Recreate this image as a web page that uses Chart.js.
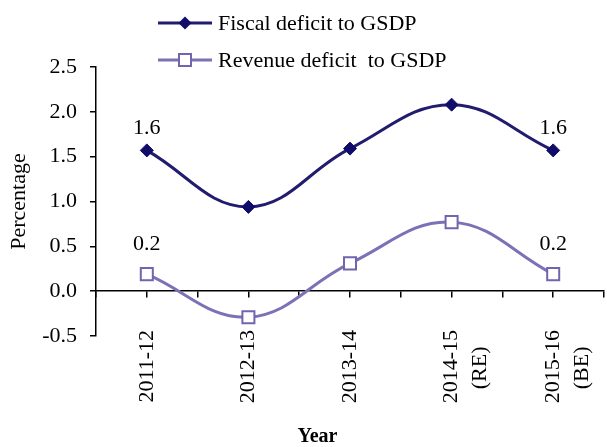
<!DOCTYPE html>
<html>
<head>
<meta charset="utf-8">
<script src="https://cdn.jsdelivr.net/npm/chart.js@4.4.1/dist/chart.umd.min.js"></script>
<style>
  html, body { margin: 0; padding: 0; background: #ffffff; }
  #wrap { position: relative; width: 607px; height: 447px; }
  #legend { position: absolute; left: 0; top: 0; width: 607px; height: 80px; pointer-events: none; }
  .lg-row { position: absolute; left: 158px; height: 26px; display: flex; align-items: center; }
  .lg-row span { margin-left: 6px; font-family: 'Liberation Serif', 'Times New Roman', serif; font-size: 22px; line-height: 26px; color: #000; white-space: pre; }
</style>
</head>
<body>
<div id="wrap">
  <canvas id="c" width="607" height="447"></canvas>
  <div id="legend"></div>
</div>
<script>
// ---- data ----
const categories = ['2011-12', '2012-13', '2013-14', ['2014-15', '(RE)'], ['2015-16', '(BE)']];
const seriesNames = ['Fiscal deficit to GSDP', 'Revenue deficit  to GSDP'];
const fiscalDeficit = [1.57, 0.94, 1.59, 2.08, 1.57];
const revenueDeficit = [0.19, -0.29, 0.31, 0.77, 0.19];
const fiscalLabels = ['1.6', '', '', '', '1.6'];
const revenueLabels = ['0.2', '', '', '', '0.2'];
const yTicks = [-0.5, 0, 0.5, 1.0, 1.5, 2.0, 2.5];
const axisTitleY = 'Percentage';
const axisTitleX = 'Year';

const SERIF = "'Liberation Serif', 'Times New Roman', serif";
const fiscalColor = '#221c6e';
const fiscalMarker = '#100c6a';
const revenueColor = '#7b72b6';

const toPts = arr => arr.map((v, i) => ({ x: i, y: v }));

const pointLabelPlugin = {
  id: 'pointLabels',
  afterDatasetsDraw(chart) {
    const ctx = chart.ctx;
    ctx.save();
    ctx.font = '22px ' + SERIF;
    ctx.fillStyle = '#000';
    ctx.textAlign = 'center';
    ctx.textBaseline = 'alphabetic';
    chart.data.datasets.forEach((ds, di) => {
      const meta = chart.getDatasetMeta(di);
      (ds.pointLabels || []).forEach((t, i) => {
        if (!t) return;
        const el = meta.data[i];
        ctx.fillText(t, el.x, el.y - ds.labelOffset);
      });
    });
    ctx.restore();
  }
};

const chart = new Chart(document.getElementById('c'), {
  type: 'line',
  data: {
    datasets: [
      {
        label: seriesNames[0],
        data: toPts(fiscalDeficit),
        pointLabels: fiscalLabels,
        labelOffset: 16,
        borderColor: fiscalColor,
        borderWidth: 3,
        tension: 0.4,
        pointStyle: 'rectRot',
        pointRadius: 6.5,
        pointHoverRadius: 6.5,
        pointBackgroundColor: fiscalMarker,
        pointBorderColor: fiscalMarker,
        pointBorderWidth: 1,
        clip: false,
        xAxisID: 'x',
        yAxisID: 'y'
      },
      {
        label: seriesNames[1],
        data: toPts(revenueDeficit),
        pointLabels: revenueLabels,
        labelOffset: 24,
        borderColor: revenueColor,
        borderWidth: 3,
        tension: 0.4,
        pointStyle: 'rect',
        pointRadius: 8.5,
        pointHoverRadius: 8.5,
        pointBackgroundColor: '#ffffff',
        pointBorderColor: '#6f66ae',
        pointBorderWidth: 2,
        clip: false,
        xAxisID: 'x',
        yAxisID: 'y'
      }
    ]
  },
  options: {
    responsive: false,
    animation: false,
    events: [],
    layout: { autoPadding: false, padding: { top: 67, right: 3, bottom: 0, left: 0 } },
    plugins: { legend: { display: false }, tooltip: { enabled: false } },
    scales: {
      x: {
        type: 'linear',
        position: 'bottom',
        min: -0.5,
        max: 4.5,
        afterBuildTicks: s => { s.ticks = categories.map((c, i) => ({ value: i })); },
        afterFit: s => {
          s.height = 111;
          s.paddingLeft = 0;
          s.paddingRight = 0;
          s._computeLabelArea = () => undefined;
        },
        grid: { display: false, drawTicks: false },
        border: { display: false },
        ticks: {
          minRotation: 90,
          maxRotation: 90,
          padding: -6,
          autoSkip: false,
          color: '#000',
          font: { family: SERIF, size: 22, lineHeight: 1.3 },
          callback: v => {
            const c = categories[v];
            if (Array.isArray(c)) return [c[0], c[1] + '   '];
            return c;
          }
        },
        title: {
          display: true,
          text: axisTitleX + '             ',
          color: '#000',
          font: { family: SERIF, size: 20, weight: 'bold', lineHeight: 1.0 },
          padding: { top: 0, bottom: 0 }
        }
      },
      x2: {
        type: 'linear',
        position: { y: 0 },
        min: -0.5,
        max: 4.5,
        afterBuildTicks: s => {
          const t = [];
          for (let v = -0.5; v <= 4.5001; v += 0.5) t.push({ value: v });
          s.ticks = t;
        },
        afterFit: s => { s.paddingLeft = 0; s.paddingRight = 0; },
        grid: { drawOnChartArea: false, drawTicks: true, tickLength: 6, color: '#000', lineWidth: 1.5 },
        border: { display: true, color: '#000', width: 1.5 },
        ticks: { display: false }
      },
      y: {
        type: 'linear',
        position: 'left',
        min: -0.5,
        max: 2.5,
        afterBuildTicks: s => { s.ticks = yTicks.map(v => ({ value: v })); },
        afterFit: s => { s.width = 96; },
        grid: { drawOnChartArea: false, drawTicks: true, tickLength: 6, color: '#000', lineWidth: 1.5 },
        border: { display: true, color: '#000', width: 1.5 },
        ticks: {
          padding: 13,
          color: '#000',
          font: { family: SERIF, size: 22 },
          callback: v => v.toFixed(1)
        },
        title: {
          display: true,
          text: axisTitleY,
          color: '#000',
          font: { family: SERIF, size: 22 },
          padding: { top: 6, bottom: 0 }
        }
      }
    }
  },
  plugins: [pointLabelPlugin]
});

// ---- HTML legend built from the datasets ----
(function buildLegend() {
  const lg = document.getElementById('legend');
  const rowsY = [23, 60];
  chart.data.datasets.forEach((ds, i) => {
    const row = document.createElement('div');
    row.className = 'lg-row';
    row.style.top = (rowsY[i] - 13) + 'px';
    const svgNS = 'http://www.w3.org/2000/svg';
    const svg = document.createElementNS(svgNS, 'svg');
    svg.setAttribute('width', '54');
    svg.setAttribute('height', '18');
    const line = document.createElementNS(svgNS, 'line');
    line.setAttribute('x1', '0'); line.setAttribute('x2', '54');
    line.setAttribute('y1', '9'); line.setAttribute('y2', '9');
    line.setAttribute('stroke', ds.borderColor);
    line.setAttribute('stroke-width', '3');
    svg.appendChild(line);
    if (ds.pointStyle === 'rectRot') {
      const p = document.createElementNS(svgNS, 'polygon');
      p.setAttribute('points', '27,2.5 33.5,9 27,15.5 20.5,9');
      p.setAttribute('fill', ds.pointBackgroundColor);
      svg.appendChild(p);
    } else {
      const r = document.createElementNS(svgNS, 'rect');
      r.setAttribute('x', '21'); r.setAttribute('y', '3');
      r.setAttribute('width', '12'); r.setAttribute('height', '12');
      r.setAttribute('fill', ds.pointBackgroundColor);
      r.setAttribute('stroke', ds.pointBorderColor);
      r.setAttribute('stroke-width', '2');
      svg.appendChild(r);
    }
    row.appendChild(svg);
    const span = document.createElement('span');
    span.textContent = ds.label;
    row.appendChild(span);
    lg.appendChild(row);
  });
})();
</script>
</body>
</html>
